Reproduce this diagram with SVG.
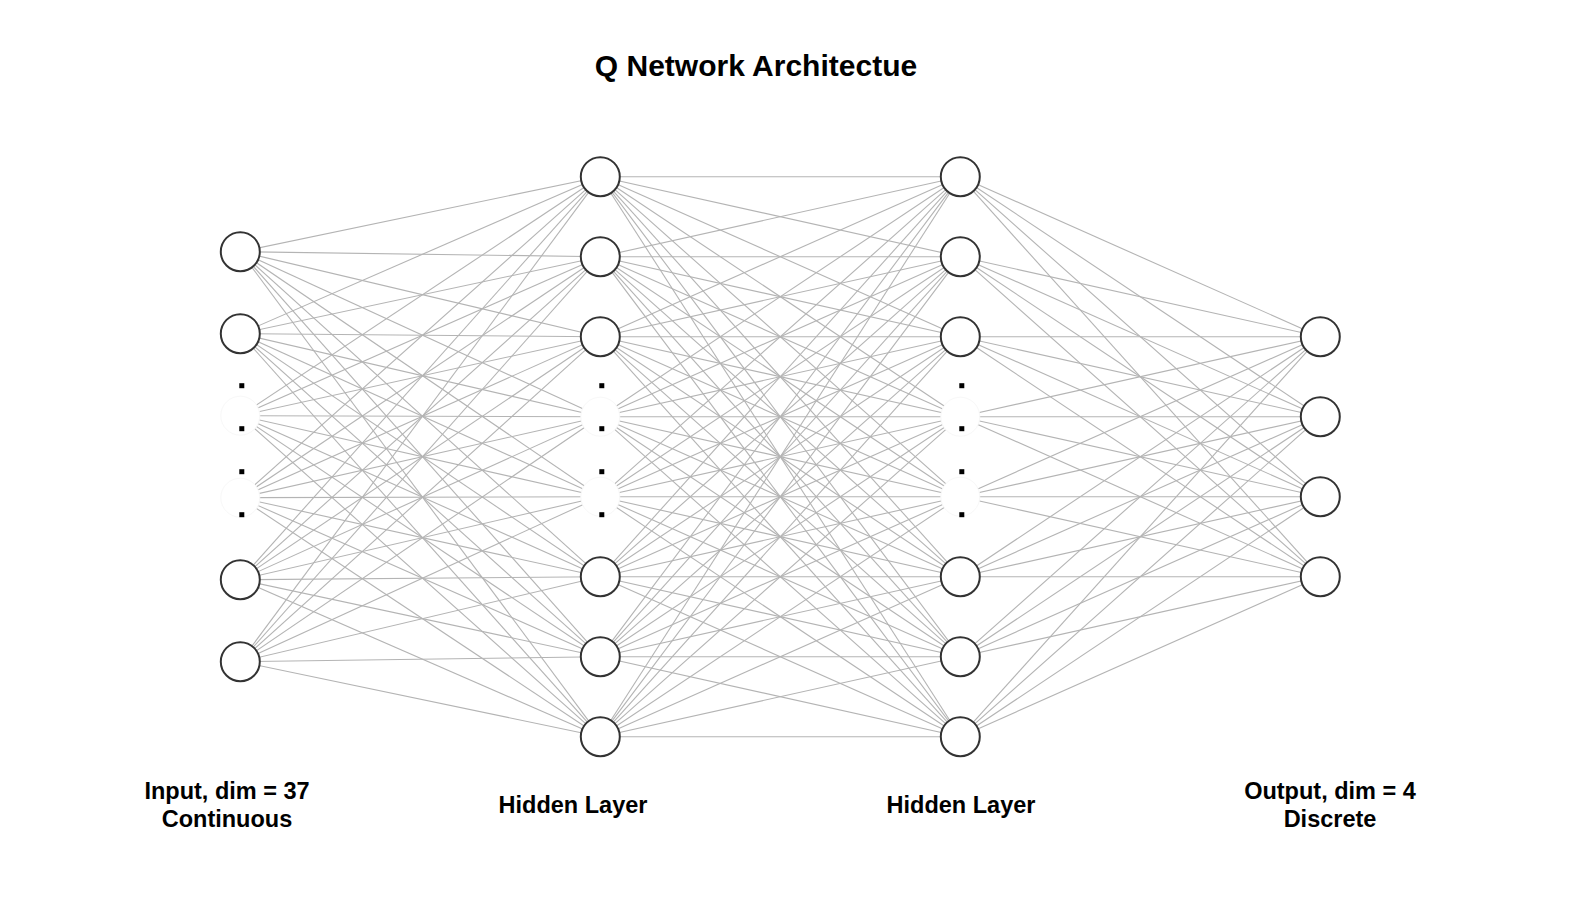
<svg xmlns="http://www.w3.org/2000/svg" width="1572" height="908" viewBox="0 0 1572 908">
<style>
.conn line{stroke:#b4b4b4;stroke-width:1.1;fill:none}
.node{fill:#fff;stroke:#333;stroke-width:2}
.ghost{fill:#fff;stroke:#f8f8f8;stroke-width:1}
.dot{fill:#000}
.lbl{font-family:"Liberation Sans",Arial,Helvetica,sans-serif;font-weight:bold;fill:#000;text-anchor:middle}
</style>
<rect width="1572" height="908" fill="#fff"/>
<text class="lbl" x="756" y="76" font-size="30">Q Network Architectue</text>
<g transform="translate(0.3,0.7)">
<g id="connectors" class="conn">
<line x1="240" y1="251" x2="600" y2="176"/><line x1="240" y1="251" x2="600" y2="256"/><line x1="240" y1="251" x2="600" y2="336"/><line x1="240" y1="251" x2="600" y2="416"/><line x1="240" y1="251" x2="600" y2="496"/><line x1="240" y1="251" x2="600" y2="576"/><line x1="240" y1="251" x2="600" y2="656"/><line x1="240" y1="251" x2="600" y2="736"/>
<line x1="240" y1="333" x2="600" y2="176"/><line x1="240" y1="333" x2="600" y2="256"/><line x1="240" y1="333" x2="600" y2="336"/><line x1="240" y1="333" x2="600" y2="416"/><line x1="240" y1="333" x2="600" y2="496"/><line x1="240" y1="333" x2="600" y2="576"/><line x1="240" y1="333" x2="600" y2="656"/><line x1="240" y1="333" x2="600" y2="736"/>
<line x1="240" y1="415" x2="600" y2="176"/><line x1="240" y1="415" x2="600" y2="256"/><line x1="240" y1="415" x2="600" y2="336"/><line x1="240" y1="415" x2="600" y2="416"/><line x1="240" y1="415" x2="600" y2="496"/><line x1="240" y1="415" x2="600" y2="576"/><line x1="240" y1="415" x2="600" y2="656"/><line x1="240" y1="415" x2="600" y2="736"/>
<line x1="240" y1="497" x2="600" y2="176"/><line x1="240" y1="497" x2="600" y2="256"/><line x1="240" y1="497" x2="600" y2="336"/><line x1="240" y1="497" x2="600" y2="416"/><line x1="240" y1="497" x2="600" y2="496"/><line x1="240" y1="497" x2="600" y2="576"/><line x1="240" y1="497" x2="600" y2="656"/><line x1="240" y1="497" x2="600" y2="736"/>
<line x1="240" y1="579" x2="600" y2="176"/><line x1="240" y1="579" x2="600" y2="256"/><line x1="240" y1="579" x2="600" y2="336"/><line x1="240" y1="579" x2="600" y2="416"/><line x1="240" y1="579" x2="600" y2="496"/><line x1="240" y1="579" x2="600" y2="576"/><line x1="240" y1="579" x2="600" y2="656"/><line x1="240" y1="579" x2="600" y2="736"/>
<line x1="240" y1="661" x2="600" y2="176"/><line x1="240" y1="661" x2="600" y2="256"/><line x1="240" y1="661" x2="600" y2="336"/><line x1="240" y1="661" x2="600" y2="416"/><line x1="240" y1="661" x2="600" y2="496"/><line x1="240" y1="661" x2="600" y2="576"/><line x1="240" y1="661" x2="600" y2="656"/><line x1="240" y1="661" x2="600" y2="736"/>

<line x1="600" y1="176" x2="960" y2="176"/><line x1="600" y1="176" x2="960" y2="256"/><line x1="600" y1="176" x2="960" y2="336"/><line x1="600" y1="176" x2="960" y2="416"/><line x1="600" y1="176" x2="960" y2="496"/><line x1="600" y1="176" x2="960" y2="576"/><line x1="600" y1="176" x2="960" y2="656"/><line x1="600" y1="176" x2="960" y2="736"/>
<line x1="600" y1="256" x2="960" y2="176"/><line x1="600" y1="256" x2="960" y2="256"/><line x1="600" y1="256" x2="960" y2="336"/><line x1="600" y1="256" x2="960" y2="416"/><line x1="600" y1="256" x2="960" y2="496"/><line x1="600" y1="256" x2="960" y2="576"/><line x1="600" y1="256" x2="960" y2="656"/><line x1="600" y1="256" x2="960" y2="736"/>
<line x1="600" y1="336" x2="960" y2="176"/><line x1="600" y1="336" x2="960" y2="256"/><line x1="600" y1="336" x2="960" y2="336"/><line x1="600" y1="336" x2="960" y2="416"/><line x1="600" y1="336" x2="960" y2="496"/><line x1="600" y1="336" x2="960" y2="576"/><line x1="600" y1="336" x2="960" y2="656"/><line x1="600" y1="336" x2="960" y2="736"/>
<line x1="600" y1="416" x2="960" y2="176"/><line x1="600" y1="416" x2="960" y2="256"/><line x1="600" y1="416" x2="960" y2="336"/><line x1="600" y1="416" x2="960" y2="416"/><line x1="600" y1="416" x2="960" y2="496"/><line x1="600" y1="416" x2="960" y2="576"/><line x1="600" y1="416" x2="960" y2="656"/><line x1="600" y1="416" x2="960" y2="736"/>
<line x1="600" y1="496" x2="960" y2="176"/><line x1="600" y1="496" x2="960" y2="256"/><line x1="600" y1="496" x2="960" y2="336"/><line x1="600" y1="496" x2="960" y2="416"/><line x1="600" y1="496" x2="960" y2="496"/><line x1="600" y1="496" x2="960" y2="576"/><line x1="600" y1="496" x2="960" y2="656"/><line x1="600" y1="496" x2="960" y2="736"/>
<line x1="600" y1="576" x2="960" y2="176"/><line x1="600" y1="576" x2="960" y2="256"/><line x1="600" y1="576" x2="960" y2="336"/><line x1="600" y1="576" x2="960" y2="416"/><line x1="600" y1="576" x2="960" y2="496"/><line x1="600" y1="576" x2="960" y2="576"/><line x1="600" y1="576" x2="960" y2="656"/><line x1="600" y1="576" x2="960" y2="736"/>
<line x1="600" y1="656" x2="960" y2="176"/><line x1="600" y1="656" x2="960" y2="256"/><line x1="600" y1="656" x2="960" y2="336"/><line x1="600" y1="656" x2="960" y2="416"/><line x1="600" y1="656" x2="960" y2="496"/><line x1="600" y1="656" x2="960" y2="576"/><line x1="600" y1="656" x2="960" y2="656"/><line x1="600" y1="656" x2="960" y2="736"/>
<line x1="600" y1="736" x2="960" y2="176"/><line x1="600" y1="736" x2="960" y2="256"/><line x1="600" y1="736" x2="960" y2="336"/><line x1="600" y1="736" x2="960" y2="416"/><line x1="600" y1="736" x2="960" y2="496"/><line x1="600" y1="736" x2="960" y2="576"/><line x1="600" y1="736" x2="960" y2="656"/><line x1="600" y1="736" x2="960" y2="736"/>

<line x1="960" y1="176" x2="1320" y2="336"/><line x1="960" y1="176" x2="1320" y2="416"/><line x1="960" y1="176" x2="1320" y2="496"/><line x1="960" y1="176" x2="1320" y2="576"/>
<line x1="960" y1="256" x2="1320" y2="336"/><line x1="960" y1="256" x2="1320" y2="416"/><line x1="960" y1="256" x2="1320" y2="496"/><line x1="960" y1="256" x2="1320" y2="576"/>
<line x1="960" y1="336" x2="1320" y2="336"/><line x1="960" y1="336" x2="1320" y2="416"/><line x1="960" y1="336" x2="1320" y2="496"/><line x1="960" y1="336" x2="1320" y2="576"/>
<line x1="960" y1="416" x2="1320" y2="336"/><line x1="960" y1="416" x2="1320" y2="416"/><line x1="960" y1="416" x2="1320" y2="496"/><line x1="960" y1="416" x2="1320" y2="576"/>
<line x1="960" y1="496" x2="1320" y2="336"/><line x1="960" y1="496" x2="1320" y2="416"/><line x1="960" y1="496" x2="1320" y2="496"/><line x1="960" y1="496" x2="1320" y2="576"/>
<line x1="960" y1="576" x2="1320" y2="336"/><line x1="960" y1="576" x2="1320" y2="416"/><line x1="960" y1="576" x2="1320" y2="496"/><line x1="960" y1="576" x2="1320" y2="576"/>
<line x1="960" y1="656" x2="1320" y2="336"/><line x1="960" y1="656" x2="1320" y2="416"/><line x1="960" y1="656" x2="1320" y2="496"/><line x1="960" y1="656" x2="1320" y2="576"/>
<line x1="960" y1="736" x2="1320" y2="336"/><line x1="960" y1="736" x2="1320" y2="416"/><line x1="960" y1="736" x2="1320" y2="496"/><line x1="960" y1="736" x2="1320" y2="576"/>
</g>

<g id="input-layer">
<g id="in1"><circle class="node" cx="240" cy="251" r="19.5"/></g>
<g id="in2"><circle class="node" cx="240" cy="333" r="19.5"/></g>
<g id="in3"><circle class="ghost" cx="240" cy="415" r="19.5"/></g>
<g id="in4"><circle class="ghost" cx="240" cy="497" r="19.5"/></g>
<g id="in5"><circle class="node" cx="240" cy="579" r="19.5"/></g>
<g id="in6"><circle class="node" cx="240" cy="661" r="19.5"/></g>
</g>
<g id="hidden1-layer">
<g id="h1n1"><circle class="node" cx="600" cy="176" r="19.5"/></g>
<g id="h1n2"><circle class="node" cx="600" cy="256" r="19.5"/></g>
<g id="h1n3"><circle class="node" cx="600" cy="336" r="19.5"/></g>
<g id="h1n4"><circle class="ghost" cx="600" cy="416" r="19.5"/></g>
<g id="h1n5"><circle class="ghost" cx="600" cy="496" r="19.5"/></g>
<g id="h1n6"><circle class="node" cx="600" cy="576" r="19.5"/></g>
<g id="h1n7"><circle class="node" cx="600" cy="656" r="19.5"/></g>
<g id="h1n8"><circle class="node" cx="600" cy="736" r="19.5"/></g>
</g>
<g id="hidden2-layer">
<g id="h2n1"><circle class="node" cx="960" cy="176" r="19.5"/></g>
<g id="h2n2"><circle class="node" cx="960" cy="256" r="19.5"/></g>
<g id="h2n3"><circle class="node" cx="960" cy="336" r="19.5"/></g>
<g id="h2n4"><circle class="ghost" cx="960" cy="416" r="19.5"/></g>
<g id="h2n5"><circle class="ghost" cx="960" cy="496" r="19.5"/></g>
<g id="h2n6"><circle class="node" cx="960" cy="576" r="19.5"/></g>
<g id="h2n7"><circle class="node" cx="960" cy="656" r="19.5"/></g>
<g id="h2n8"><circle class="node" cx="960" cy="736" r="19.5"/></g>
</g>
<g id="output-layer">
<g id="out1"><circle class="node" cx="1320" cy="336" r="19.5"/></g>
<g id="out2"><circle class="node" cx="1320" cy="416" r="19.5"/></g>
<g id="out3"><circle class="node" cx="1320" cy="496" r="19.5"/></g>
<g id="out4"><circle class="node" cx="1320" cy="576" r="19.5"/></g>
</g>
<g id="ellipsis-dots">
<rect class="dot" x="239" y="382.5" width="5" height="5"/><rect class="dot" x="239" y="425.5" width="5" height="5"/><rect class="dot" x="239" y="468.5" width="5" height="5"/><rect class="dot" x="239" y="511.5" width="5" height="5"/>
<rect class="dot" x="599" y="382.5" width="5" height="5"/><rect class="dot" x="599" y="425.5" width="5" height="5"/><rect class="dot" x="599" y="468.5" width="5" height="5"/><rect class="dot" x="599" y="511.5" width="5" height="5"/>
<rect class="dot" x="959" y="382.5" width="5" height="5"/><rect class="dot" x="959" y="425.5" width="5" height="5"/><rect class="dot" x="959" y="468.5" width="5" height="5"/><rect class="dot" x="959" y="511.5" width="5" height="5"/>
</g>
</g>
<g id="labels">
<text class="lbl" x="227" y="799" font-size="23.5">Input, dim = 37</text>
<text class="lbl" x="227" y="827" font-size="23.5">Continuous</text>
<text class="lbl" x="573" y="813" font-size="23.5">Hidden Layer</text>
<text class="lbl" x="961" y="813" font-size="23.5">Hidden Layer</text>
<text class="lbl" x="1330" y="799" font-size="23.5">Output, dim = 4</text>
<text class="lbl" x="1330" y="827" font-size="23.5">Discrete</text>
</g>
</svg>
